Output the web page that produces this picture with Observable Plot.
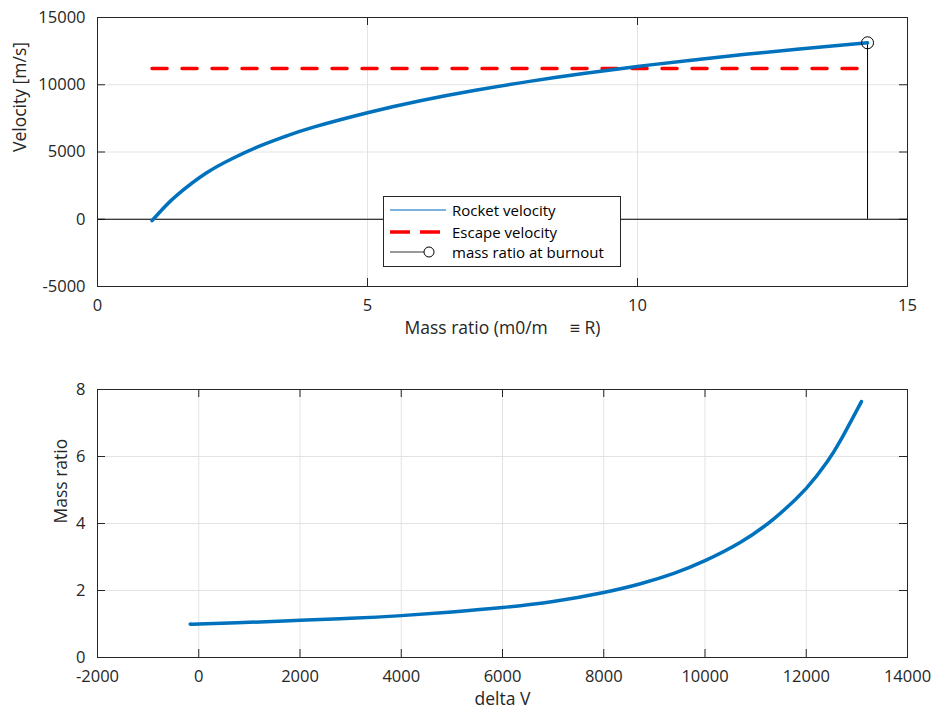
<!DOCTYPE html>
<html><head><meta charset="utf-8">
<script src="https://cdn.jsdelivr.net/npm/d3@7"></script>
<script src="https://cdn.jsdelivr.net/npm/@observablehq/plot@0.6"></script>
<style>
body{margin:0;background:#fff;font-family:"Open Sans",sans-serif;}
#wrap{position:relative;width:931px;height:717px;}
#top,#bottom{position:absolute;left:0;}
#top{top:0}
#bottom{top:350px}
#legend{position:absolute;left:383px;top:196px;width:236px;height:69px;border:1px solid #262626;background:#fff;font-size:15px;color:#000;}
#legend .row{position:absolute;left:0;height:20px;display:flex;align-items:center;}
#legend svg{display:block;margin-left:6px;margin-right:6px;}
</style></head><body>
<div id="wrap"><div id="top"></div><div id="bottom"></div><div id="legend"></div></div>
<script>
// ---- data ----
const massRatio      = [1.01, 1.25, 1.5, 2, 2.5, 3, 3.5, 4, 5, 6, 7, 8, 9, 10, 11, 12, 13, 14.26];
const rocketVelocity = [-100, 950, 1890, 3400, 4520, 5430, 6190, 6850, 7920, 8830, 9590, 10250, 10840, 11360, 11830, 12260, 12660, 13120];
const escapeRatio    = [1.01, 14.26];
const escapeVelocity = [11200, 11200];
const burnoutRatio   = [14.26];
const burnoutVelocity= [13120];

const deltaV         = [-150, 0, 1000, 2000, 3000, 4000, 5000, 6000, 7000, 8000, 8726, 9384, 10000, 10701, 11359, 12000, 12414, 12677, 13090];
const massRatioDV    = [1.0, 1.0, 1.05, 1.11, 1.17, 1.25, 1.36, 1.49, 1.67, 1.94, 2.20, 2.51, 2.89, 3.44, 4.14, 5.05, 5.84, 6.48, 7.64];

const xTicksTop    = [0, 5, 10, 15];
const yTicksTop    = [-5000, 0, 5000, 10000, 15000];
const xTicksBottom = [-2000, 0, 2000, 4000, 6000, 8000, 10000, 12000, 14000];
const yTicksBottom = [0, 2, 4, 6, 8];

const topLabels = {x: "Mass ratio (m0/m\u2003 \u2261 R)", y: "Velocity [m/s]"};
const bottomLabels = {x: "delta V", y: "Mass ratio"};
const legendItems = ["Rocket velocity", "Escape velocity", "mass ratio at burnout"];

// ---- helpers ----
const FONT = '"Open Sans", sans-serif';
const AXC = "#262626";
const GRID = "#e3e3e3";
const BLUE = "#0072BD";
const FS = 16.5;
const LFS = 17.5;

function boxMarks(xt, yt, innerW, innerH) {
  return [
    Plot.gridX(xt, {stroke: GRID, strokeOpacity: 1}),
    Plot.gridY(yt, {stroke: GRID, strokeOpacity: 1}),
    Plot.ruleX(xt, {stroke: AXC, insetTop: innerH - 8}),
    Plot.ruleX(xt, {stroke: AXC, insetBottom: innerH - 8}),
    Plot.ruleY(yt, {stroke: AXC, insetRight: innerW - 8}),
    Plot.ruleY(yt, {stroke: AXC, insetLeft: innerW - 8}),
    Plot.axisX(xt, {tickSize: 0, tickPadding: 13, label: null, fill: AXC, fontSize: FS, tickFormat: d => String(d)}),
    Plot.axisY(yt, {tickSize: 0, tickPadding: 12, label: null, fill: AXC, fontSize: FS, tickFormat: d => String(d)}),
  ];
}

const pairs = (a, b) => a.map((v, i) => ({x: v, y: b[i]}));

// ---- top plot ----
const topData = pairs(massRatio, rocketVelocity);
const escData = pairs(escapeRatio, escapeVelocity);
const burnData = pairs(burnoutRatio, burnoutVelocity);

const topPlot = Plot.plot({
  width: 931, height: 350,
  marginLeft: 97, marginRight: 24, marginTop: 17, marginBottom: 64,
  style: {fontSize: FS + "px", fontFamily: FONT, color: AXC, background: "transparent"},
  x: {domain: [0, 15], axis: null},
  y: {domain: [-5000, 15000], axis: null},
  marks: [
    ...boxMarks(xTicksTop, yTicksTop, 810, 269),
    Plot.ruleY([0], {stroke: "#000", strokeWidth: 1}),
    Plot.ruleX(burnData, {x: "x", y1: 0, y2: "y", stroke: "#000", strokeWidth: 1}),
    Plot.line(escData, {x: "x", y: "y", stroke: "#ff0000", strokeWidth: 3.5, strokeDasharray: "15,15"}),
    Plot.line(topData, {x: "x", y: "y", stroke: BLUE, strokeWidth: 3.5, curve: "natural"}),
    Plot.dot(burnData, {x: "x", y: "y", r: 6, stroke: "#000", fill: "none", strokeWidth: 1}),
    Plot.frame({stroke: AXC}),
    Plot.text([topLabels.x], {text: d => d, frameAnchor: "bottom", dy: 47, fill: AXC, fontSize: LFS}),
    Plot.text([topLabels.y], {text: d => d, frameAnchor: "left", dx: -77, rotate: -90, fill: AXC, fontSize: LFS})
  ]
});
document.getElementById("top").appendChild(topPlot);

// ---- bottom plot ----
const botData = pairs(deltaV, massRatioDV);
const bottomPlot = Plot.plot({
  width: 931, height: 367,
  marginLeft: 97, marginRight: 24, marginTop: 39, marginBottom: 60,
  style: {fontSize: FS + "px", fontFamily: FONT, color: AXC, background: "transparent"},
  x: {domain: [-2000, 14000], axis: null},
  y: {domain: [0, 8], axis: null},
  marks: [
    ...boxMarks(xTicksBottom, yTicksBottom, 810, 268),
    Plot.line(botData, {x: "x", y: "y", stroke: BLUE, strokeWidth: 3.5, curve: "natural"}),
    Plot.frame({stroke: AXC}),
    Plot.text([bottomLabels.x], {text: d => d, frameAnchor: "bottom", dy: 47, fill: AXC, fontSize: LFS}),
    Plot.text([bottomLabels.y], {text: d => d, frameAnchor: "left", dx: -36, rotate: -90, fill: AXC, fontSize: LFS})
  ]
});
document.getElementById("bottom").appendChild(bottomPlot);

// ---- legend ----
const leg = document.getElementById("legend");
const swatches = [
  '<svg width="56" height="12"><line x1="0" y1="6" x2="56" y2="6" stroke="#7ab3df" stroke-width="2"/></svg>',
  '<svg width="56" height="12"><line x1="0" y1="6" x2="56" y2="6" stroke="#ff0000" stroke-width="3.5" stroke-dasharray="20,10"/></svg>',
  '<svg width="56" height="12"><line x1="0" y1="6" x2="34" y2="6" stroke="#333" stroke-width="1"/><circle cx="39" cy="6" r="5" fill="none" stroke="#000"/></svg>'
];
const rowTops = [3, 25, 45];
legendItems.forEach((t, i) => {
  const r = document.createElement("div");
  r.className = "row";
  r.style.top = rowTops[i] + "px";
  r.innerHTML = swatches[i] + "<span>" + t + "</span>";
  leg.appendChild(r);
});
</script>
</body></html>
